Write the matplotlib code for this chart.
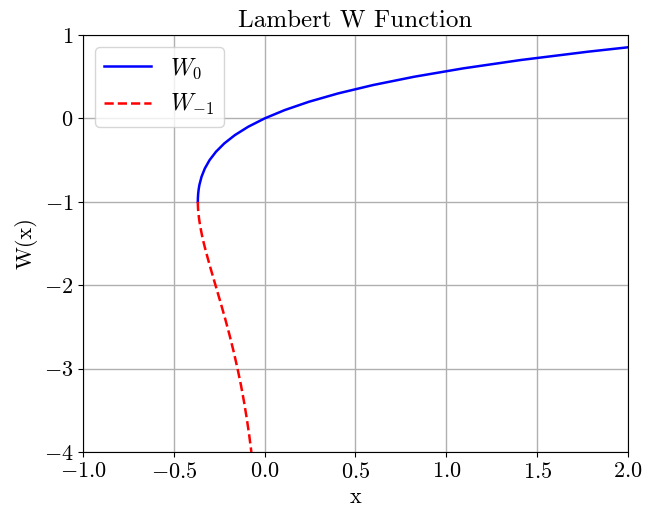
import matplotlib
matplotlib.use("Agg")
import matplotlib.pyplot as plt

# points
w0_x = [-0.3679, -0.3678, -0.3674, -0.3659, -0.3633, -0.3595, -0.3476, -0.3293,
        -0.3033, -0.2681, -0.2223, -0.1638, -0.0905, 0.0, 0.1105, 0.2443,
        0.4050, 0.5967, 0.8244, 1.0933, 1.4096, 1.7804, 2.0]
w0_y = [-1.0, -0.98, -0.95, -0.9, -0.85, -0.8, -0.7, -0.6,
        -0.5, -0.4, -0.3, -0.2, -0.1, 0.0, 0.1, 0.2,
        0.3, 0.4, 0.5, 0.6, 0.7, 0.8, 0.8526]

wm1_x = [-0.3679, -0.3678, -0.3674, -0.3662, -0.3614, -0.3543, -0.3452, -0.3347,
         -0.3230, -0.2975, -0.2707, -0.2438, -0.2177, -0.1931, -0.1703, -0.1494,
         -0.1304, -0.1135, -0.0984, -0.0850, -0.0733]
wm1_y = [-1.0, -1.02, -1.05, -1.1, -1.2, -1.3, -1.4, -1.5,
         -1.6, -1.8, -2.0, -2.2, -2.4, -2.6, -2.8, -3.0,
         -3.2, -3.4, -3.6, -3.8, -4.0]

x_ticks = [-1.0, -0.5, 0.0, 0.5, 1.0, 1.5, 2.0]
y_ticks = [1, 0, -1, -2, -3, -4]

plt.rcParams['font.family'] = 'serif'
plt.rcParams['font.serif'] = ['cmr10']
plt.rcParams['mathtext.fontset'] = 'cm'
plt.rcParams['axes.formatter.use_mathtext'] = True
plt.rcParams['axes.unicode_minus'] = True

fig = plt.figure(figsize=(6.56, 5.07), dpi=100)
ax = fig.add_axes([83/656, 1 - 452/507, (628 - 83)/656, (452 - 35)/507])

ax.plot(w0_x, w0_y, color='blue', linewidth=1.8, label=r'$W_0$')
ax.plot(wm1_x, wm1_y, color='red', linestyle='--', linewidth=1.8, label=r'$W_{-1}$')

ax.set_xlim(-1.0, 2.0)
ax.set_ylim(-4, 1)
ax.set_xticks(x_ticks)
ax.set_yticks(y_ticks)
ax.set_xticklabels([f'${t:.1f}$' for t in x_ticks])
ax.set_yticklabels([f'${t}$' for t in y_ticks])
ax.tick_params(labelsize=16)
ax.grid(True, color='#b0b0b0', linewidth=1)

ax.set_title('Lambert W Function', fontsize=18)
ax.set_xlabel('x', fontsize=16)
ax.set_ylabel('W(x)', fontsize=16)
ax.legend(loc='upper left', fontsize=17)

fig.savefig('out.png', dpi=100)
